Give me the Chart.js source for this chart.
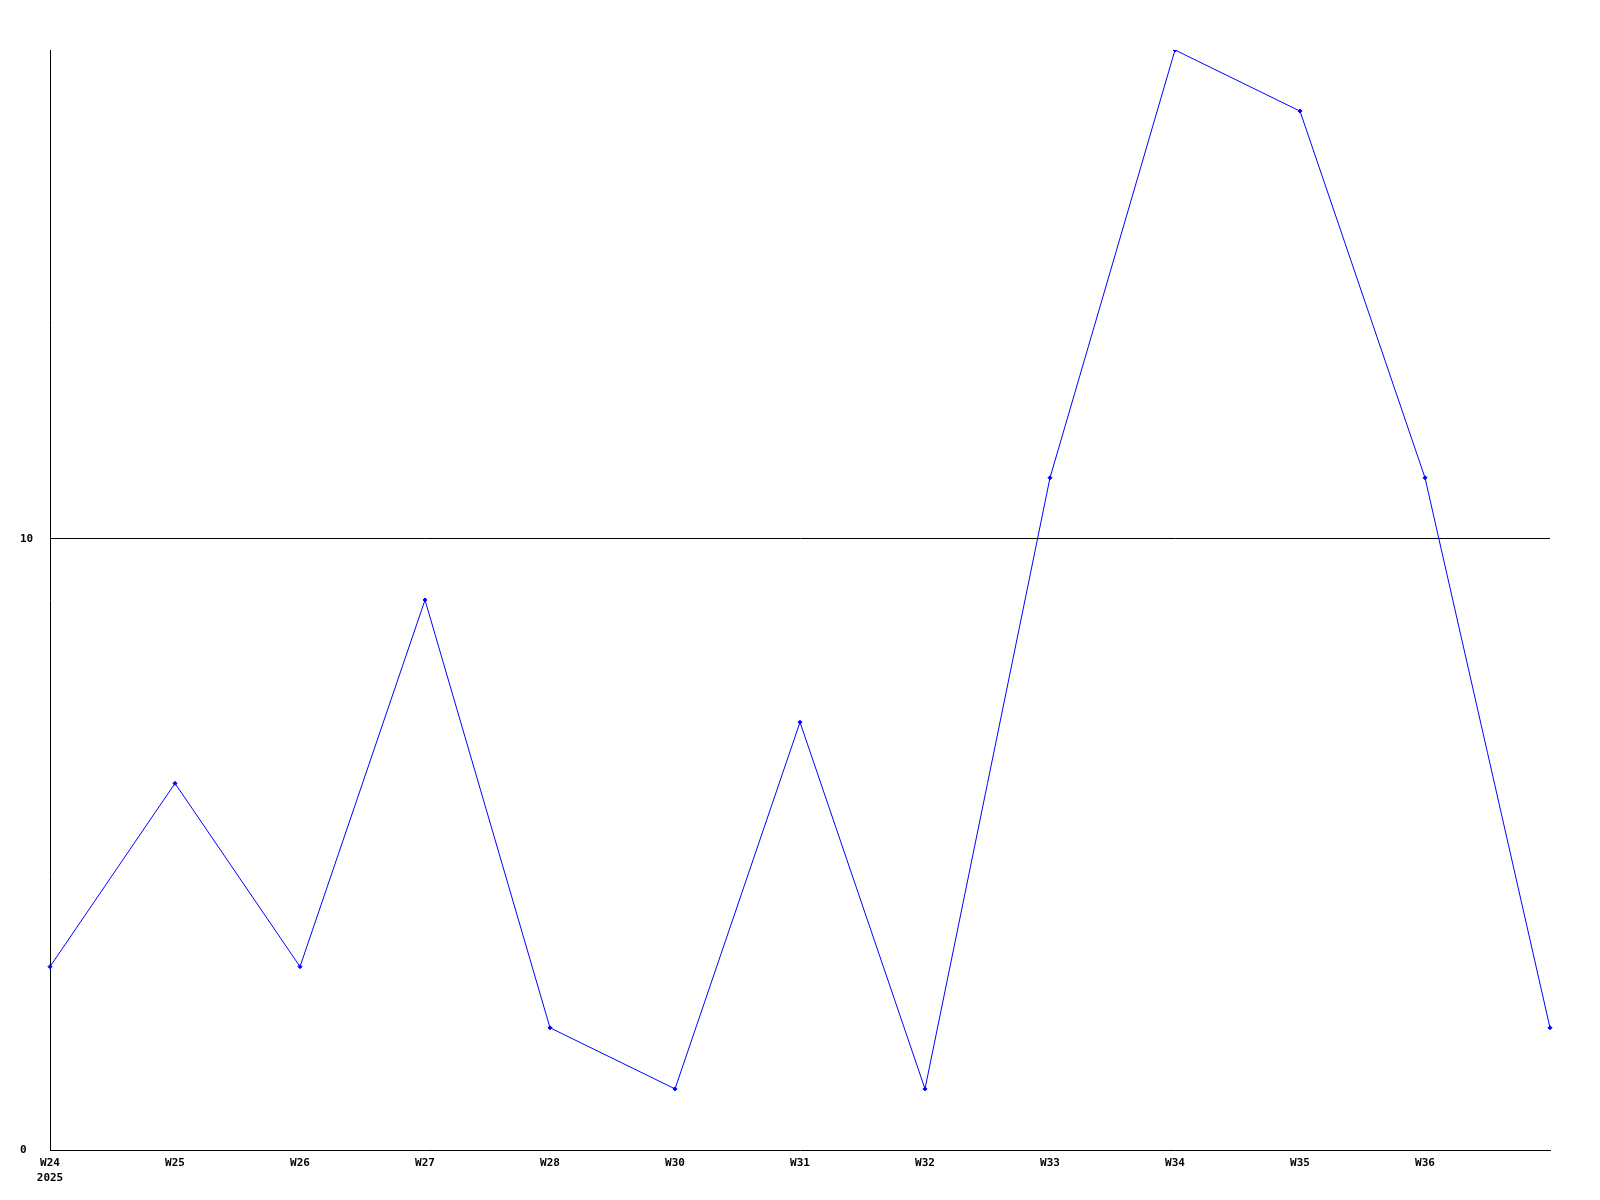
<!DOCTYPE html>
<html>
<head>
<meta charset="utf-8">
<script src="https://cdn.jsdelivr.net/npm/chart.js@4/dist/chart.umd.min.js"></script>
<style>
  html, body { margin: 0; padding: 0; background: #fff; }
  #wrap { width: 1600px; height: 1200px; }
</style>
</head>
<body>
<div id="wrap"><canvas id="chart"></canvas></div>
<script>
// --- data ---
const weekLabels = [['W24', '2025'], 'W25', 'W26', 'W27', 'W28', 'W30', 'W31', 'W32', 'W33', 'W34', 'W35', 'W36', ''];
const weekValues = [3, 6, 3, 9, 2, 1, 7, 1, 11, 18, 17, 11, 2];
const yTicks = [0, 10];

const tickFont = { family: '"DejaVu Sans Mono", monospace', size: 11, weight: 'bold', lineHeight: 1.35 };

new Chart(document.getElementById('chart'), {
    type: 'line',
    data: {
        labels: weekLabels,
        datasets: [{
            data: weekValues,
            borderColor: '#0000ff',
            backgroundColor: '#0000ff',
            borderWidth: 1,
            pointRadius: 2,
            pointStyle: 'rectRot',
            tension: 0,
            fill: false
        }]
    },
    options: {
        responsive: true,
        maintainAspectRatio: false,
        animation: false,
        layout: { padding: { top: 50, right: 50, left: 20, bottom: 0 } },
        plugins: { legend: { display: false }, tooltip: { enabled: false } },
        scales: {
            x: {
                offset: false,
                grid: { display: false, drawTicks: false },
                border: { display: true, color: '#000', width: 1 },
                ticks: {
                    color: '#000', font: tickFont, padding: 6,
                    autoSkip: false, maxRotation: 0, minRotation: 0
                },
                afterFit: s => { s.height = 50; }
            },
            y: {
                min: 0,
                max: 18,
                afterBuildTicks: s => { s.ticks = yTicks.map(v => ({ value: v })); },
                grid: {
                    drawTicks: false,
                    color: c => (c.tick && c.tick.value === 10 ? '#000' : 'rgba(0,0,0,0)'),
                    lineWidth: 1
                },
                border: { display: true, color: '#000', width: 1 },
                ticks: { color: '#000', font: tickFont, crossAlign: 'far' },
                afterFit: s => { s.width = 30; }
            }
        }
    }
});
</script>
</body>
</html>
